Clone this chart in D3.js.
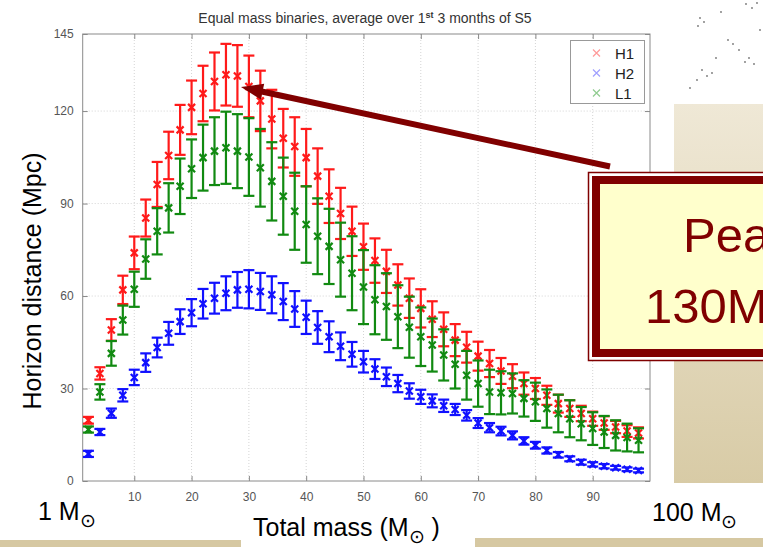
<!DOCTYPE html>
<html><head><meta charset="utf-8">
<script src="https://cdn.jsdelivr.net/npm/d3@7"></script>
<style>html,body{margin:0;padding:0;background:#fff;}svg{display:block;}</style>
</head><body>
<script>
// ---- data ----
const masses = [2,4,6,8,10,12,14,16,18,20,22,24,26,28,30,32,34,36,38,40,42,44,46,48,50,52,54,56,58,60,62,64,66,68,70,72,74,76,78,80,82,84,86,88,90,92,94,96,98];
const h1 = [19.7,34.9,49,62,74,85.3,96.2,105.6,113.9,121.2,125.7,129.6,131.8,131.4,128,123.3,117.4,111.2,108.5,104.9,98.9,92.4,86.8,81,76,71.5,68,63.6,59.3,56,52.5,49.2,45.7,43.4,40.5,38.1,35.7,34,31.6,30,27.8,25.1,23.5,21.9,20.2,18.8,17.5,16.2,15.6];
const h1Err = [1.1,2,3.5,4.6,5.3,6,7.3,7.7,8.1,8.7,9,9.4,10,10,10,9.8,9.5,9.5,9.5,9.3,9,8.7,8.3,8,7.5,7.2,7,6.7,6.4,6.2,5.8,5.5,5.2,5,4.7,4.4,4.2,3.9,3.6,3.4,3.1,2.9,2.7,2.5,2.3,2.2,2,1.9,1.8];
const h2 = [8.8,15.9,22,27.8,33.6,38.4,43.3,47.9,51.7,54.6,57.5,59.3,60.9,62,62.2,61.5,60.4,58.2,55.8,53.1,49.8,46.8,43.7,41.1,38.7,36.3,33.8,31.6,29.2,27.3,26,24.4,23.2,21.3,18.8,17.3,16.2,14.8,13,11.6,9.9,8.5,7.2,6.1,5.4,4.8,4.3,3.8,3.4];
const h2Err = [1,1,1.5,2,2.5,3,3.2,3.7,4,4.4,4.8,5,5.5,5.8,6.2,6,6,6,5.8,5.4,5.3,5,4.5,4,3.5,3.2,3,2.8,2.5,2.3,2.1,2,1.8,1.7,1.6,1.5,1.4,1.3,1.2,1.1,1,0.9,0.8,0.8,0.7,0.7,0.6,0.6,0.6];
const l1 = [16.7,28.9,41.4,52.2,62.2,72,81,88.6,95.6,101.3,104.9,107,108.1,107,105.1,101.6,97.2,92.4,87.5,83.2,79.4,76.1,71.8,67.4,62.9,58.8,56.6,53.3,49.9,46.8,44.1,40.9,37.9,34.3,31.6,28.9,28.6,28.4,26.8,25.7,23.5,21.9,20.2,18.6,17,15.9,14.8,14.1,13.2];
const l1Err = [1,2.5,4,4.7,5.7,6.4,7.5,8,9,9.5,10.7,11,11.7,12,12.6,12.6,12.7,12.5,12.5,12.4,12.3,12.2,12,12,12,11.2,10.8,10.2,9.9,9.5,8.6,8.3,7.9,7.9,7.5,7.2,7,6.5,5.9,6.2,6.2,6.1,6,5.4,5.3,5.2,4.9,4.5,3.9];
const seriesNames = ["H1","H2","L1"];
const seriesColors = ["#ff1a1a","#1010ff","#118a11"];
const legendColors = ["#ff9a9a","#a0a0ff","#90cc90"];
const xTicks = [10,20,30,40,50,60,70,80,90];
const yTicks = [0,30,60,90,120,145];
const titleText = "Equal mass binaries, average over 1";
const yLabel = "Horizon distance (Mpc)";
const xLabel = "Total mass (M";
const calloutLines = ["Peak at", "130Mpc"];

// ---- layout ----
const W = 763, H = 547;
const svg = d3.select("body").append("svg").attr("width", W).attr("height", H);
const x = d3.scaleLinear().domain([1, 100]).range([82.7, 650]);
const y = d3.scaleLinear().domain([0, 145]).range([481, 34]);

// slide background decorations
const defs = svg.append("defs");
const grad = defs.append("linearGradient").attr("id","beige").attr("x1",0).attr("y1",0).attr("x2",0).attr("y2",1);
grad.append("stop").attr("offset","0%").attr("stop-color","#efe8d6");
grad.append("stop").attr("offset","100%").attr("stop-color","#d8cba6");
svg.append("rect").attr("x",674).attr("y",104).attr("width",W-674).attr("height",379).attr("fill","url(#beige)");
svg.append("rect").attr("x",0).attr("y",540).attr("width",241).attr("height",7).attr("fill","#d6c8a2");
svg.append("rect").attr("x",475).attr("y",538).attr("width",W-475).attr("height",9).attr("fill","#d6c8a2");
// specks top-right
const specks = [[746,4],[752,8],[757,3],[700,18],[704,22],[698,26],[728,40],[733,44],[739,50],[749,58],[754,64],[745,62],[702,70],[707,76],[712,73],[697,80],[721,12],[760,30],[716,58],[690,88]];
svg.append("g").selectAll("circle").data(specks).join("circle")
  .attr("cx",d=>d[0]).attr("cy",d=>d[1]).attr("r",0.9).attr("fill","#777");

// ---- plot ----
const g = svg.append("g");
const [x0, x1] = x.range(); const [yb, yt] = y.range();

// grid
g.append("g").selectAll("line").data(xTicks).join("line")
  .attr("x1",d=>x(d)).attr("x2",d=>x(d)).attr("y1",yt).attr("y2",yb)
  .attr("stroke","#d4d4d4").attr("stroke-width",1).attr("stroke-dasharray","1,2");
g.append("g").selectAll("line").data(yTicks.filter(t=>t>0 && t<145)).join("line")
  .attr("x1",x0).attr("x2",x1).attr("y1",d=>y(d)).attr("y2",d=>y(d))
  .attr("stroke","#d4d4d4").attr("stroke-width",1).attr("stroke-dasharray","1,2");

// axes
const ax = g.append("g").attr("transform",`translate(0,${yb})`)
  .call(d3.axisBottom(x).tickValues(xTicks).tickSizeInner(-5).tickSizeOuter(0).tickPadding(11));
const ay = g.append("g").attr("transform",`translate(${x0},0)`)
  .call(d3.axisLeft(y).tickValues(yTicks).tickSizeInner(-5).tickSizeOuter(0).tickPadding(9));
const axt = g.append("g").attr("transform",`translate(0,${yt})`)
  .call(d3.axisTop(x).tickValues(xTicks).tickSizeInner(-5).tickSizeOuter(0).tickFormat(""));
const ayr = g.append("g").attr("transform",`translate(${x1},0)`)
  .call(d3.axisRight(y).tickValues(yTicks).tickSizeInner(-5).tickSizeOuter(0).tickFormat(""));
[ax,ay,axt,ayr].forEach(a=>{
  a.select(".domain").remove();
  a.selectAll(".tick line").attr("stroke","#888");
  a.selectAll(".tick text").attr("fill","#555").style("font-family","'Liberation Sans', Arial, sans-serif").style("font-size","12px");
});
g.append("rect").attr("x",x0).attr("y",yt).attr("width",x1-x0).attr("height",yb-yt)
  .attr("fill","none").attr("stroke","#8a8a8a").attr("stroke-width",1);

// series
const series = [
  {name: seriesNames[0], vals: h1, errs: h1Err, color: seriesColors[0]},
  {name: seriesNames[1], vals: h2, errs: h2Err, color: seriesColors[1]},
  {name: seriesNames[2], vals: l1, errs: l1Err, color: seriesColors[2]}
];
const cap = 5.5, ms = 3.5;
series.forEach(s=>{
  const pts = masses.map((m,i)=>({m, v:s.vals[i], e:s.errs[i]}));
  const sg = g.append("g").attr("stroke", s.color).attr("stroke-width",2.2).attr("fill","none");
  const pg = sg.selectAll("g").data(pts).join("g");
  pg.append("line").attr("x1",d=>x(d.m)).attr("x2",d=>x(d.m)).attr("y1",d=>y(d.v-d.e)).attr("y2",d=>y(d.v+d.e));
  pg.append("line").attr("x1",d=>x(d.m)-cap).attr("x2",d=>x(d.m)+cap).attr("y1",d=>y(d.v+d.e)).attr("y2",d=>y(d.v+d.e));
  pg.append("line").attr("x1",d=>x(d.m)-cap).attr("x2",d=>x(d.m)+cap).attr("y1",d=>y(d.v-d.e)).attr("y2",d=>y(d.v-d.e));
  pg.append("path").attr("d",d=>{const cx=x(d.m), cy=y(d.v);
    return `M${cx-ms},${cy-ms}L${cx+ms},${cy+ms}M${cx-ms},${cy+ms}L${cx+ms},${cy-ms}`;});
});

// legend
const lg = svg.append("g");
lg.append("rect").attr("x",570.5).attr("y",40.5).attr("width",74).attr("height",63).attr("fill","#fff").attr("stroke","#999");
seriesNames.forEach((n,i)=>{
  const cy = 53 + i*20;
  lg.append("path").attr("d",`M593,${cy-3.5}L600,${cy+3.5}M593,${cy+3.5}L600,${cy-3.5}`).attr("stroke",legendColors[i]).attr("stroke-width",1.2);
  lg.append("text").attr("x",615).attr("y",cy+5.5).text(n).attr("fill","#222")
    .style("font-family","'Liberation Sans', Arial, sans-serif").style("font-size","15px");
});

// title
const tt = svg.append("text").attr("x",365).attr("y",23).attr("text-anchor","middle").attr("fill","#333")
  .style("font-family","'Liberation Sans', Arial, sans-serif").style("font-size","14px");
tt.append("tspan").text(titleText);
tt.append("tspan").text("st").attr("dy",-5).style("font-size","9px").style("font-weight","bold");
tt.append("tspan").text(" 3 months of S5").attr("dy",5);

// axis labels
const bigFont = "'Liberation Sans', Arial, sans-serif";
svg.append("text").attr("transform","translate(41,281) rotate(-90)").attr("text-anchor","middle")
  .style("font-family",bigFont).style("font-size","25px").attr("fill","#000").text(yLabel);
function solarText(xp, yp, main, tail, anchor){
  const t = svg.append("text").attr("x",xp).attr("y",yp).attr("text-anchor",anchor)
    .style("font-family",bigFont).style("font-size","25px").attr("fill","#000");
  t.append("tspan").text(main);
  t.append("tspan").text("\u2299").attr("dy",7).style("font-size","19px");
  if (tail) t.append("tspan").text(tail).attr("dy",-7);
  return t;
}
solarText(253, 536, xLabel, " )", "start");
solarText(38, 520, "1 M", null, "start");
solarText(652, 521, "100 M", null, "start");

// callout box
const cb = svg.append("g");
cb.append("rect").attr("x",588.5).attr("y",172.5).attr("width",200).attr("height",188).attr("fill","#fff").attr("stroke","#800000").attr("stroke-width",1.5);
cb.append("rect").attr("x",596).attr("y",180).attr("width",200).attr("height",173).attr("fill","#ffffcc").attr("stroke","#800000").attr("stroke-width",8);
cb.append("text").attr("x",683).attr("y",252).text(calloutLines[0]).attr("fill","#800000")
  .style("font-family",bigFont).style("font-size","49px");
cb.append("text").attr("x",645).attr("y",323).text(calloutLines[1]).attr("fill","#800000")
  .style("font-family",bigFont).style("font-size","49px");

// arrow
const tip = [241, 87], tail = [610, 166.5];
const dx = tip[0]-tail[0], dy = tip[1]-tail[1], L = Math.hypot(dx,dy), ux = dx/L, uy = dy/L;
const hl = 22, hw = 8;
const base = [tip[0]-ux*hl, tip[1]-uy*hl];
svg.append("line").attr("x1",tail[0]).attr("y1",tail[1]).attr("x2",base[0]+ux*2).attr("y2",base[1]+uy*2)
  .attr("stroke","#800000").attr("stroke-width",6);
svg.append("path").attr("d",`M${tip[0]},${tip[1]}L${base[0]-uy*hw},${base[1]+ux*hw}L${base[0]+uy*hw},${base[1]-ux*hw}Z`)
  .attr("fill","#800000");
</script>
</body></html>
